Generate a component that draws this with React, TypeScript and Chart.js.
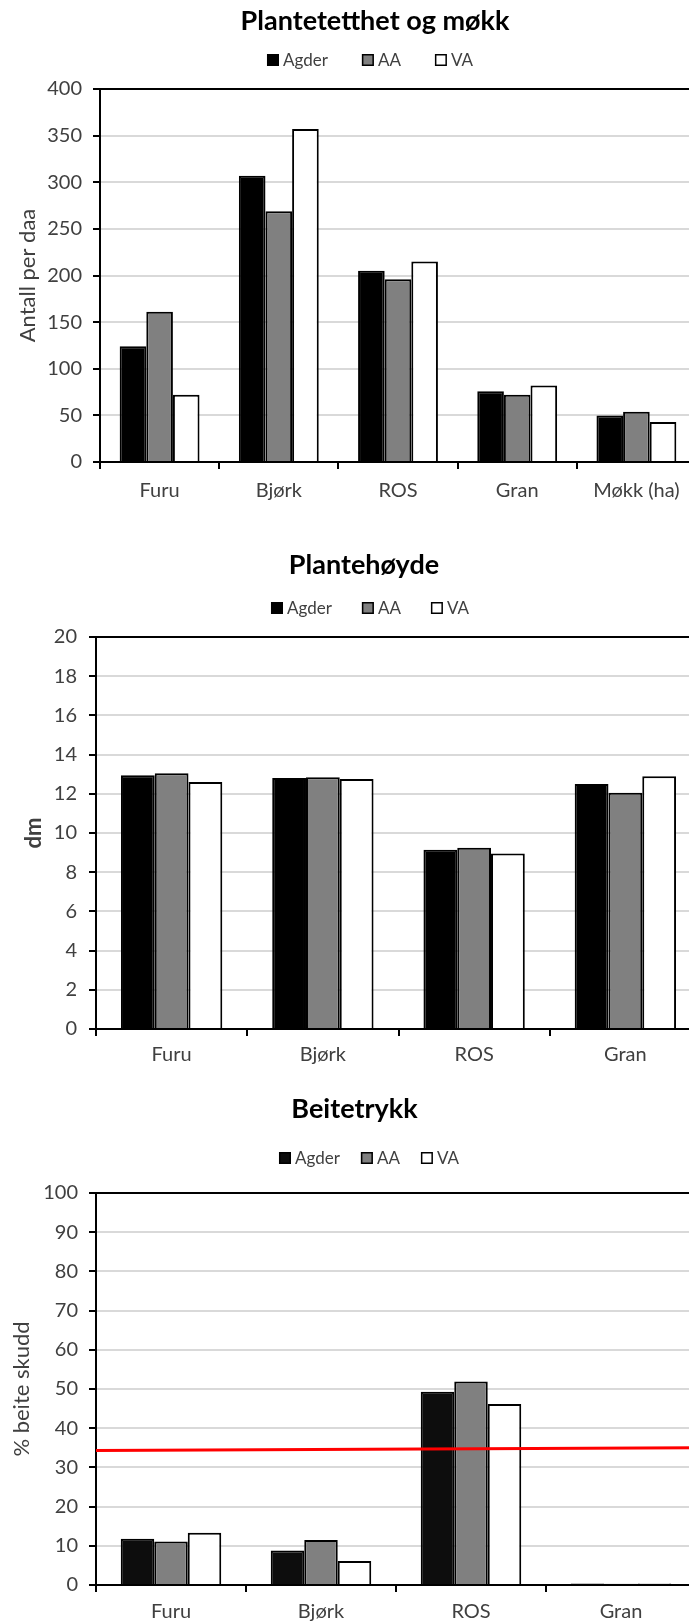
import React, { useEffect, useRef } from "react";
import { Chart, registerables } from "chart.js";

Chart.register(...registerables);

// Series shared by all three panels
const seriesNames = ["Agder", "AA", "VA"];
const seriesFills = ["#000000", "#808080", "#ffffff"];
const browsingFills = ["#0d0d0d", "#808080", "#ffffff"];

// Plantetetthet og møkk (antall per daa)
const densityCategories = ["Furu", "Bjørk", "ROS", "Gran", "Møkk (ha)"];
const densityAgder = [124, 307, 205, 76, 50];
const densityAA = [161, 269, 196, 72, 54];
const densityVA = [72, 357, 215, 82, 43];

// Plantehøyde (dm)
const heightCategories = ["Furu", "Bjørk", "ROS", "Gran"];
const heightAgder = [12.95, 12.8, 9.15, 12.5];
const heightAA = [13.05, 12.85, 9.25, 12.05];
const heightVA = [12.6, 12.75, 8.95, 12.9];

// Beitetrykk (% beite skudd)
const browsingCategories = ["Furu", "Bjørk", "ROS", "Gran"];
const browsingAgder = [11.8, 8.8, 49.3, 0.4];
const browsingAA = [11.1, 11.5, 51.9, 0.3];
const browsingVA = [13.3, 6.1, 46.2, 0.4];
// Red reference line: value at the left and at the right end of the plot
const thresholdLine = [
  { x: 0, y: 34.3 },
  { x: 1, y: 35.0 },
];

const TEXT = "#404040";
const FONT = "Lato";
const W = 760;

// Draws the chart heading and the square-marker legend above the plot
const headerPlugin = {
  id: "header",
  afterDraw(chart: any, _args: any, opts: any) {
    if (!opts || !opts.title) return;
    const ctx = chart.ctx as CanvasRenderingContext2D;
    ctx.save();
    ctx.fillStyle = "#000";
    ctx.font = `bold ${opts.titleSize}px ${FONT}`;
    ctx.textAlign = "center";
    ctx.textBaseline = "alphabetic";
    ctx.fillText(opts.title, opts.titleX, opts.titleY);

    ctx.font = `${opts.legendSize}px ${FONT}`;
    ctx.textAlign = "left";
    const box = 12;
    const textGap = 4;
    const items = chart.data.datasets;
    const widths = items.map((d: any) => ctx.measureText(d.label).width);
    let total = 0;
    widths.forEach((w: number, i: number) => {
      total += box + textGap + w + (i < widths.length - 1 ? opts.legendGap : 0);
    });
    let x = opts.legendCx - total / 2;
    items.forEach((d: any, i: number) => {
      ctx.fillStyle = d.backgroundColor;
      ctx.fillRect(x, opts.legendTop, box, box);
      ctx.strokeStyle = "#000";
      ctx.lineWidth = 1.5;
      ctx.strokeRect(x + 0.75, opts.legendTop + 0.75, box - 1.5, box - 1.5);
      ctx.fillStyle = TEXT;
      ctx.fillText(d.label, x + box + textGap, opts.legendTop + box - 0.5);
      x += box + textGap + widths[i] + opts.legendGap;
    });
    ctx.restore();
  },
};

function barSets(values: number[][], fills: string[]) {
  return seriesNames.map((name, i) => ({
    label: name,
    data: values[i],
    backgroundColor: fills[i],
    borderColor: "#000",
    borderWidth: 2,
    categoryPercentage: 0.67,
    barPercentage: 1,
  }));
}

function yAxis(
  max: number,
  step: number,
  title: string,
  bold: boolean,
  titlePad: number,
  width: number,
  tickPad: number
) {
  return {
    min: 0,
    max,
    ticks: {
      stepSize: step,
      color: TEXT,
      padding: tickPad,
      font: { family: FONT, size: 20 },
    },
    grid: {
      color: (c: any) => (c.tick && c.tick.value === max ? "#000" : "#d9d9d9"),
      lineWidth: 2,
      tickColor: "#000",
      tickLength: 7,
      tickWidth: 2,
    },
    border: { color: "#000", width: 2 },
    title: {
      display: true,
      text: title,
      color: TEXT,
      font: { family: FONT, size: 22, weight: bold ? "bold" : "normal" },
      padding: { top: titlePad, bottom: 0 },
    },
    afterFit: (s: any) => {
      s.width = width;
    },
  };
}

function xAxis(height: number, labelPad: number) {
  return {
    type: "category" as const,
    offset: true,
    grid: {
      display: true,
      drawOnChartArea: false,
      offset: true,
      color: "#000",
      lineWidth: 2,
      tickColor: "#000",
      tickLength: 7,
      tickWidth: 2,
    },
    border: { color: "#000", width: 2 },
    ticks: {
      color: TEXT,
      padding: labelPad,
      maxRotation: 0,
      autoSkip: false,
      font: { family: FONT, size: 20 },
    },
    afterFit: (s: any) => {
      s.height = height;
    },
  };
}

function baseOptions(padding: any, header: any, scales: any) {
  return {
    responsive: false,
    animation: false as const,
    devicePixelRatio: 1,
    events: [],
    layout: { padding },
    plugins: {
      legend: { display: false },
      title: { display: false },
      tooltip: { enabled: false },
      header,
    },
    scales,
  };
}

function Panel({ makeConfig, top, height }: any) {
  const ref = useRef<HTMLCanvasElement>(null);
  useEffect(() => {
    const chart = new Chart(ref.current as HTMLCanvasElement, makeConfig());
    return () => chart.destroy();
  }, []);
  return (
    <canvas
      ref={ref}
      width={W}
      height={height}
      style={{ position: "absolute", left: 0, top, width: W, height, display: "block" }}
    />
  );
}

const densityConfig = () => ({
  type: "bar",
  data: {
    labels: densityCategories,
    datasets: barSets([densityAgder, densityAA, densityVA], seriesFills),
  },
  options: baseOptions(
    { top: 89, right: W - 696, left: 0, bottom: 0 },
    {
      title: "Plantetetthet og møkk",
      titleSize: 27,
      titleX: 375,
      titleY: 29.5,
      legendSize: 17,
      legendCx: 370,
      legendTop: 54,
      legendGap: 34,
    },
    {
      x: xAxis(58, 10),
      y: yAxis(400, 50, "Antall per daa", false, 15, 100, 11),
    }
  ),
  plugins: [headerPlugin],
});

const heightConfig = () => ({
  type: "bar",
  data: {
    labels: heightCategories,
    datasets: barSets([heightAgder, heightAA, heightVA], seriesFills),
  },
  options: baseOptions(
    { top: 117, right: W - 701, left: 0, bottom: 0 },
    {
      title: "Plantehøyde",
      titleSize: 27,
      titleX: 364,
      titleY: 54,
      legendSize: 17,
      legendCx: 370,
      legendTop: 82,
      legendGap: 30,
    },
    {
      x: xAxis(51, 7),
      y: yAxis(20, 2, "dm", true, 21, 96, 12),
    }
  ),
  plugins: [headerPlugin],
});

const browsingPadding = { top: 113, right: W - 696, left: 0, bottom: 0 };

const browsingConfig = () => ({
  type: "bar",
  data: {
    labels: browsingCategories,
    datasets: barSets([browsingAgder, browsingAA, browsingVA], browsingFills),
  },
  options: baseOptions(
    browsingPadding,
    {
      title: "Beitetrykk",
      titleSize: 27,
      titleX: 354.5,
      titleY: 38,
      legendSize: 17,
      legendCx: 369,
      legendTop: 72,
      legendGap: 21,
    },
    {
      x: xAxis(37, 8),
      y: yAxis(100, 10, "% beite skudd", false, 9, 96, 11),
    }
  ),
  plugins: [headerPlugin],
});

// The red line sits on its own transparent chart, laid over the Beitetrykk
// plot with the same plot area and the same 0-100 value axis.
const thresholdConfig = () => ({
  type: "line",
  data: {
    datasets: [
      {
        label: "grense",
        data: thresholdLine,
        borderColor: "#ff0000",
        borderWidth: 3,
        pointRadius: 0,
        fill: false,
      },
    ],
  },
  options: {
    responsive: false,
    animation: false as const,
    devicePixelRatio: 1,
    events: [],
    layout: { padding: { top: 113, right: W - 696, left: 96, bottom: 37 } },
    plugins: {
      legend: { display: false },
      title: { display: false },
      tooltip: { enabled: false },
    },
    scales: {
      x: { type: "linear", display: false, min: 0, max: 1, offset: false },
      y: { type: "linear", display: false, min: 0, max: 100 },
    },
  },
});

export default function App() {
  return (
    <div
      style={{
        position: "absolute",
        left: 0,
        top: 0,
        width: 689,
        height: 1622,
        overflow: "hidden",
        background: "#fff",
      }}
    >
      <Panel makeConfig={densityConfig} top={0} height={520} />
      <Panel makeConfig={heightConfig} top={520} height={560} />
      <Panel makeConfig={browsingConfig} top={1080} height={542} />
      <Panel makeConfig={thresholdConfig} top={1080} height={542} />
    </div>
  );
}
